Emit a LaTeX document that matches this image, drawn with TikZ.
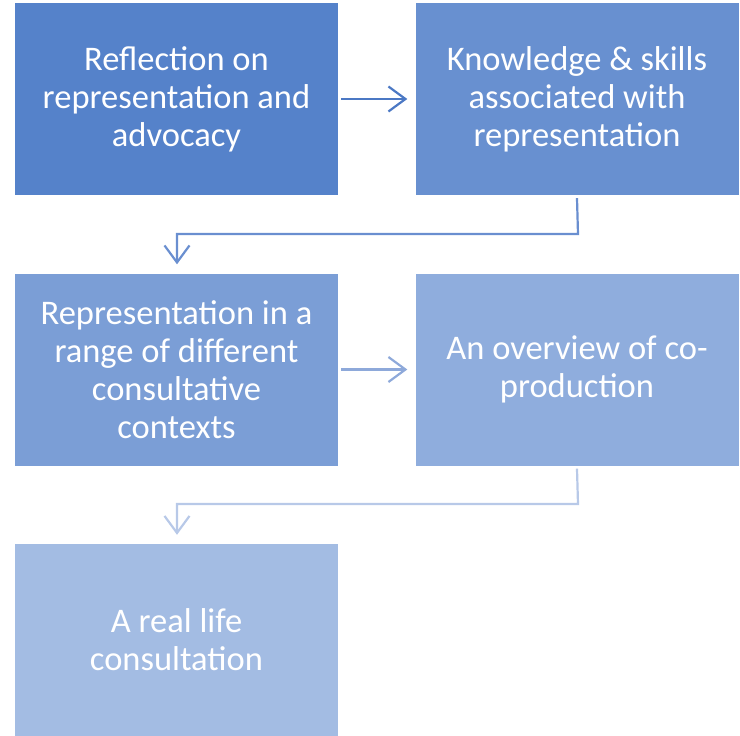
\documentclass[tikz,border=0pt]{standalone}
\usepackage{fontspec}
\setmainfont{Carlito}
\usetikzlibrary{arrows.meta}
\definecolor{cA}{HTML}{5582CA}
\definecolor{cB}{HTML}{6890D0}
\definecolor{cC}{HTML}{7B9ED6}
\definecolor{cD}{HTML}{8FADDD}
\definecolor{cE}{HTML}{A3BCE3}
\definecolor{aA}{HTML}{4B78C4}
\definecolor{aB}{HTML}{6A8FD0}
\definecolor{aC}{HTML}{8EA9DA}
\definecolor{aD}{HTML}{B8C9E8}
\begin{document}
\begin{tikzpicture}[x=1pt,y=-1pt,
  box/.style={minimum width=323pt,minimum height=192pt,inner sep=0pt,text=white,align=center,
    font=\fontsize{34.5}{38}\selectfont},
  conn/.style={line width=2.2pt,-{Straight Barb[length=17pt,width=25pt,line width=2.2pt]}}]
\useasboundingbox (0,0) rectangle (740,736);
\node[box,fill=cA] (b1) at (176.5,99) {Reflection on\\representation and\\advocacy};
\node[box,fill=cB] (b2) at (577,99) {Knowledge \& skills\\associated with\\representation};
\node[box,fill=cC] (b3) at (176.5,369.5) {Representation in a\\range of different\\consultative\\contexts};
\node[box,fill=cD] (b4) at (577,369.5) {An overview of co-\\production};
\node[box,fill=cE] (b5) at (176.5,640) {A real life\\consultation};
\draw[conn,aA] ([xshift=3pt]b1.east) -- ([xshift=-8pt]b2.west);
\draw[conn,aC] ([xshift=3pt]b3.east) -- ([xshift=-8pt]b4.west);
\coordinate (e1) at (578,234);
\coordinate (e2) at (177,234);
\draw[conn,aB] ([yshift=-3pt]b2.south) -- (e1) -- (e2) -- ([yshift=9pt]e2 |- b3.north);
\coordinate (f1) at (578,504);
\coordinate (f2) at (177,504);
\draw[conn,aD] ([yshift=-3pt]b4.south) -- (f1) -- (f2) -- ([yshift=9pt]f2 |- b5.north);
\end{tikzpicture}
\end{document}
